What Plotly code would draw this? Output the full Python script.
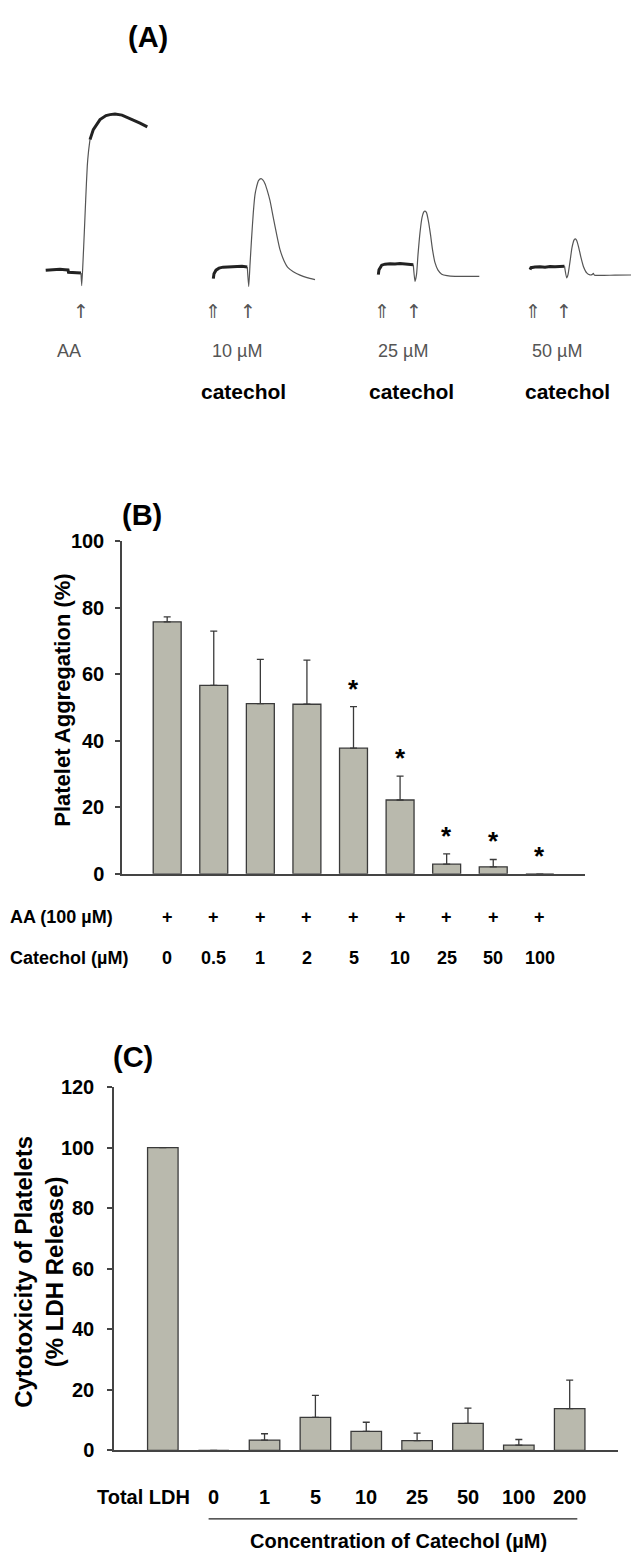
import plotly.graph_objects as go

# ---------------- Panel A: aggregation tracings (time s, light transmission %) ----------------
A1_base_t = [11.4, 20, 30, 40, 50, 56, 57, 70, 82]
A1_base_y = [14.65, 14.85, 15.15, 15.25, 15.0, 14.85, 13.65, 13.5, 13.35]
A1_rise_t = [82, 83.4, 86, 88.6, 91.4, 94.6, 97, 100]
A1_rise_y = [13.35, 7.0, 19.0, 33.5, 50.0, 67.0, 74.0, 80.0]
A1_plat_t = [100, 106.6, 120, 132, 140, 150, 164, 186, 200, 214.6]
A1_plat_y = [80, 85, 90, 92, 92.5, 92.75, 92.25, 90, 88.25, 86.35]

A2_base_t = [16.6, 18, 22, 28, 36, 50, 62, 74, 84.6]
A2_base_y = [10.5, 13, 14.75, 15.75, 16.25, 16.5, 16.65, 16.65, 16.35]
A2_resp_t = [84.6, 87.4, 90, 93, 96.6, 100, 103.4, 107, 112, 116, 120, 124, 130, 136.6,
             143.4, 150, 158, 166, 176.6, 190, 204, 220]
A2_resp_y = [16.35, 6.65, 17.5, 30, 43.5, 52.5, 56.65, 59.5, 60.5, 59.75, 58, 55, 49.5, 41,
             32.5, 25, 19.5, 16, 14, 12.25, 11, 10]

A3_base_t = [16.6, 18, 23.4, 30, 40, 50, 60, 70, 80, 86.6]
A3_base_y = [12.5, 15, 17.25, 17.75, 18, 17.85, 18.1, 18, 17.85, 17.5]
A3_resp_t = [86.6, 90, 93, 96, 100, 104, 108, 110, 113, 117, 121, 125, 130, 136, 143.4,
             154, 170, 190, 218.6]
A3_resp_y = [17.5, 9.15, 12.5, 22.5, 33.5, 41, 44, 44.25, 43.5, 39, 32.5, 25, 18.5, 14.75,
             12.75, 12, 11.65, 11.65, 11.65]

A4_base_t = [24, 26, 34, 44, 54, 64, 74, 84, 93]
A4_base_y = [15, 16, 16.35, 16.5, 16.25, 16.6, 16.4, 16.5, 16.75]
A4_resp_t = [93, 97.4, 100, 104, 108, 112, 114, 117, 121, 126, 131, 137.4, 144, 148, 150.6,
             153, 164, 194, 229.4]
A4_resp_y = [16.75, 10.85, 12.5, 19, 26, 29.75, 30.35, 29.75, 26.5, 21, 16.5, 13.35, 12.35,
             12.5, 13.1, 12.25, 12.1, 12.25, 12.35]

A_dose_labels = ["AA", "10 µM", "25 µM", "50 µM"]
A_agonist_time = [81.4, 86.6, 88.6, 92.0]          # single arrow (AA added)
A_catechol_time = [None, 16.6, 23.4, 30.6]         # double arrow (catechol added)
A_dose_label_time = [58.6, 63.4, 66.6, 78.6]
A_drug_label_time = [None, 76.6, 83.4, 99.4]

# ---------------- Panel B ----------------
B_conc = ["0", "0.5", "1", "2", "5", "10", "25", "50", "100"]
B_mean = [75.8, 56.7, 51.2, 51.0, 37.8, 22.2, 2.9, 2.1, 0.0]
B_err = [1.5, 16.3, 13.3, 13.3, 12.5, 7.2, 3.1, 2.2, None]
B_sig = [False, False, False, False, True, True, True, True, True]
B_y_ticks = [0, 20, 40, 60, 80, 100]

# ---------------- Panel C ----------------
C_labels = ["Total LDH", "0", "1", "5", "10", "25", "50", "100", "200"]
C_mean = [100.0, 0.0, 3.4, 10.9, 6.3, 3.2, 8.9, 1.75, 13.8]
C_err = [None, None, 2.1, 7.3, 3.0, 2.5, 5.1, 1.85, 9.4]
C_y_ticks = [0, 20, 40, 60, 80, 100, 120]

# ---------------- styling / layout ----------------
OFF_X = 8                 # page offset of the plot div
OFF_Y, SCALE_Y = 19.4, 0.9857   # observed vertical placement of the figure in the page photo
W, H = 631, 1562
FONT = "Liberation Sans, Arial, Helvetica, sans-serif"
BAR_FILL = "#b9b9ad"
EDGE = "#3a3a3a"
AXC = "#444444"


def px(x):
    return (x - OFF_X) / W


def py(y):
    return 1 - ((y - OFF_Y) / SCALE_Y) / H


def bold(size):
    return dict(family=FONT, size=size, color="black", weight="bold")


fig = go.Figure()
annotations = []


def note(x, y, text, font, xref="paper", yref="paper", **kw):
    d = dict(x=x, y=y, xref=xref, yref=yref, text=text, showarrow=False, font=font,
             xanchor="center", yanchor="middle")
    d.update(kw)
    annotations.append(d)


# Panel A subplots
A_left = [40, 205, 370, 518]
A_width = 120
A_dom_y = [py(300), py(100)]
A_sets = [
    [(A1_base_t, A1_base_y, "thick"), (A1_rise_t, A1_rise_y, "thin"), (A1_plat_t, A1_plat_y, "thick")],
    [(A2_base_t, A2_base_y, "thick"), (A2_resp_t, A2_resp_y, "thin")],
    [(A3_base_t, A3_base_y, "thick"), (A3_resp_t, A3_resp_y, "thin")],
    [(A4_base_t, A4_base_y, "thick"), (A4_resp_t, A4_resp_y, "thin")],
]
layout_axes = {}
arrow_font = dict(family="DejaVu Sans", size=19, color="#555555")
for i, segs in enumerate(A_sets):
    n = i + 1
    xa = "x" if n == 1 else f"x{n}"
    ya = "y" if n == 1 else f"y{n}"
    for t, y, kind in segs:
        if kind == "thick":
            line = dict(color="#222222", width=3.0)
        else:
            line = dict(color="#555555", width=1.2, shape="spline", smoothing=0.6)
        fig.add_trace(go.Scatter(x=t, y=y, mode="lines", line=line, xaxis=xa, yaxis=ya,
                                 hoverinfo="skip"))
    key = "" if n == 1 else str(n)
    frac = min(1.0, (W + OFF_X - A_left[i]) / A_width)
    layout_axes[f"xaxis{key}"] = dict(domain=[px(A_left[i]), px(A_left[i] + A_width * frac)],
                                      range=[0, 240 * frac],
                                      visible=False, anchor=ya, fixedrange=True)
    layout_axes[f"yaxis{key}"] = dict(domain=A_dom_y, range=[0, 100], visible=False,
                                      anchor=xa, fixedrange=True)
    note(A_agonist_time[i], py(311), "↑", arrow_font, xref=xa)
    if A_catechol_time[i] is not None:
        note(A_catechol_time[i], py(311), "⇑", arrow_font, xref=xa)
    note(A_dose_label_time[i], py(351), A_dose_labels[i],
         dict(family=FONT, size=18, color="#555555"), xref=xa)
    if A_drug_label_time[i] is not None:
        note(A_drug_label_time[i], py(391.5), "catechol", bold(21), xref=xa)

note(px(148), py(37), "(A)", bold(29))

# Panel B
B_x = list(range(len(B_conc)))
fig.add_trace(go.Bar(
    x=B_x, y=B_mean, width=0.6, xaxis="x5", yaxis="y5",
    marker=dict(color=BAR_FILL, line=dict(color=EDGE, width=1.3)),
    error_y=dict(type="data", symmetric=False, array=B_err, arrayminus=[0] * len(B_err),
                 color=EDGE, thickness=1.3, width=3.5),
    hoverinfo="skip"))
layout_axes["xaxis5"] = dict(domain=[px(122), px(585)], range=[-0.97, 8.97], anchor="y5",
                             showline=True, linecolor=AXC, linewidth=1.5, ticks="",
                             showticklabels=False, showgrid=False, zeroline=False, fixedrange=True)
layout_axes["yaxis5"] = dict(domain=[py(874), py(541.7)], range=[0, 100], anchor="x5",
                             showline=True, linecolor=AXC, linewidth=1.5, ticks="outside",
                             ticklen=5, tickwidth=1.5, tickcolor=AXC, tickvals=B_y_ticks,
                             ticklabelstandoff=7, showgrid=False, zeroline=False,
                             tickfont=bold(20), fixedrange=True)
for i in B_x:
    if B_sig[i]:
        top = B_mean[i] + (B_err[i] or 0)
        note(i, top, "*", bold(26), xref="x5", yref="y5", yshift=18)
    note(i, py(917), "+", bold(18), xref="x5")
    note(i, py(958), B_conc[i], bold(18), xref="x5")
note(px(8), py(917), "AA (100 µM)", bold(18), xanchor="left")
note(px(8), py(958), "Catechol (µM)", bold(18), xanchor="left")
note(px(63), py(701), "Platelet Aggregation (%)", bold(22), textangle=-90)
note(px(142), py(515), "(B)", bold(29))

# Panel C
C_x = list(range(len(C_labels)))
fig.add_trace(go.Bar(
    x=C_x, y=C_mean, width=0.6, xaxis="x6", yaxis="y6",
    marker=dict(color=BAR_FILL, line=dict(color=EDGE, width=1.3)),
    error_y=dict(type="data", symmetric=False, array=C_err, arrayminus=[0] * len(C_err),
                 color=EDGE, thickness=1.3, width=3.5),
    hoverinfo="skip"))
layout_axes["xaxis6"] = dict(domain=[px(114), px(618)], range=[-0.96, 8.95], anchor="y6",
                             showline=True, linecolor=AXC, linewidth=1.5, ticks="",
                             showticklabels=False, showgrid=False, zeroline=False, fixedrange=True)
layout_axes["yaxis6"] = dict(domain=[py(1450.5), py(1087.3)], range=[0, 120], anchor="x6",
                             showline=True, linecolor=AXC, linewidth=1.5, ticks="outside",
                             ticklen=5, tickwidth=1.5, tickcolor=AXC, tickvals=C_y_ticks,
                             ticklabelstandoff=9, showgrid=False, zeroline=False,
                             tickfont=bold(20), fixedrange=True)
for i in C_x:
    note(i, py(1497), C_labels[i], bold(20), xref="x6", xshift=-19 if i == 0 else 0)
note(px(398), py(1541.5), "Concentration of Catechol (µM)", bold(20))
note(px(39), py(1272), "Cytotoxicity of Platelets<br>(% LDH Release)", bold(24), textangle=-90)
note(px(133), py(1057), "(C)", bold(29))

shapes = [dict(type="line", xref="x6", yref="paper", x0=0.9, x1=8.15, y0=py(1519), y1=py(1519),
               line=dict(color="#222222", width=1.3))]

fig.update_layout(width=W, height=H, margin=dict(l=0, r=0, t=0, b=0),
                  paper_bgcolor="white", plot_bgcolor="white", showlegend=False,
                  annotations=annotations, shapes=shapes, **layout_axes)

fig.write_html("out.html")
